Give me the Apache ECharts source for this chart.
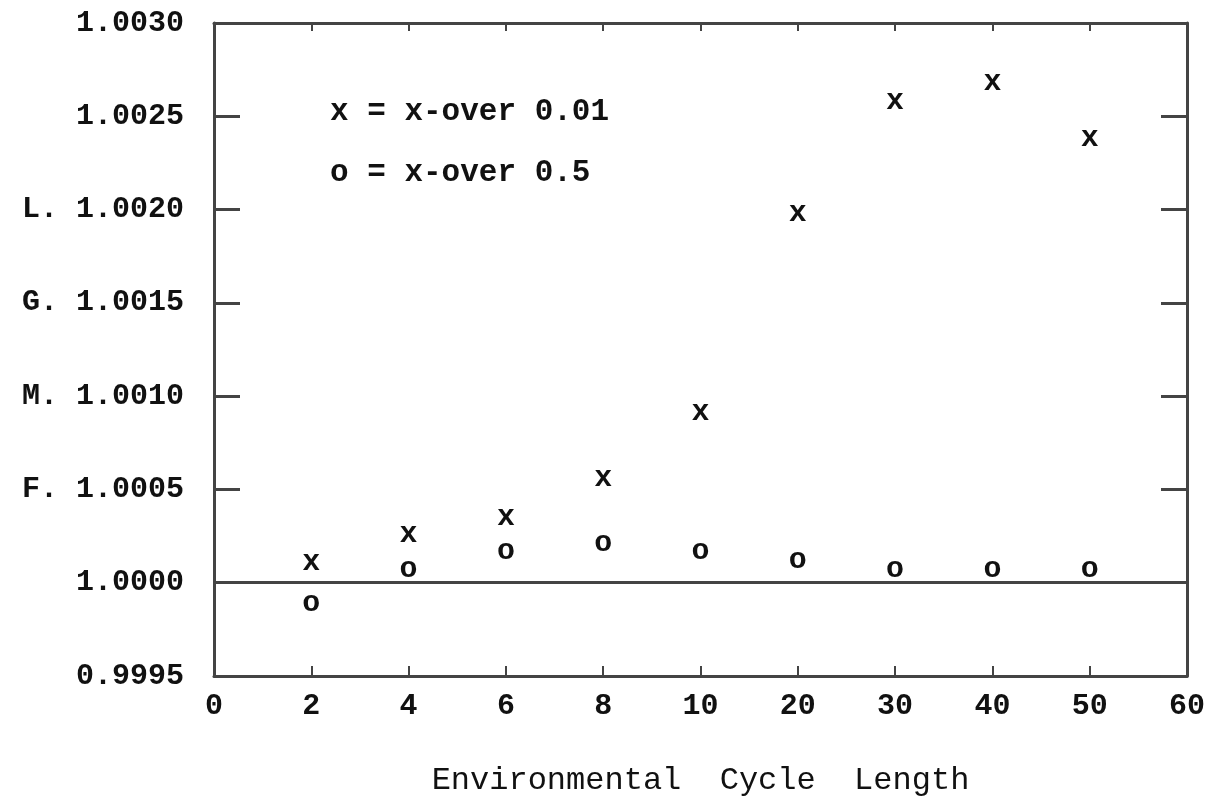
<!DOCTYPE html>
<html>
<head>
<meta charset="utf-8">
<script src="https://cdn.jsdelivr.net/npm/echarts@6/dist/echarts.min.js"></script>
<style>
  html, body { margin: 0; padding: 0; background: #fff; }
  #chart { width: 1208px; height: 802px; }
</style>
</head>
<body>
<div id="chart"></div>
<script>
// x axis tick labels (spaced evenly, not to scale)
const xTickLabels = ['0', '2', '4', '6', '8', '10', '20', '30', '40', '50', '60'];
// cycle lengths that were run
const cycleLengths = ['2', '4', '6', '8', '10', '20', '30', '40', '50'];
// L.G.M.F. values
const xover001 = [1.00011, 1.00026, 1.00035, 1.00056, 1.00091, 1.00198, 1.00258, 1.00268, 1.00238];
const xover05 = [0.99989, 1.00007, 1.00017, 1.00021, 1.00017, 1.00012, 1.00007, 1.00007, 1.00007];
// y ticks, and the letters of the y title printed in front of them
const yTicks = [0.9995, 1.0000, 1.0005, 1.0010, 1.0015, 1.0020, 1.0025, 1.0030];
const yTitleLetters = ['', '', 'F.', 'M.', 'G.', 'L.', '', ''];
const seriesNames = ['x-over 0.01', 'x-over 0.5'];
const seriesMarks = ['x', 'o'];

const font = "'Liberation Mono', 'Courier New', monospace";
const ink = '#111';
const frame = { color: '#444', width: 3 };

let chart = echarts.init(document.getElementById('chart'));

function yLabel(value) {
    let i = yTicks.findIndex(t => Math.abs(t - value) < 1e-7);
    if (i < 0) return '';
    let p = yTitleLetters[i];
    return (p ? p + ' ' : '') + yTicks[i].toFixed(4);
}

const option = {
    backgroundColor: '#fff',
    animation: false,
    grid: { left: 214, right: 12, top: 23, bottom: 120 },
    legend: {
        orient: 'vertical',
        left: 320,
        top: 92,
        icon: 'none',
        itemWidth: 0,
        itemHeight: 30,
        itemGap: 30,
        selectedMode: false,
        formatter: name => seriesMarks[seriesNames.indexOf(name)] + ' = ' + name,
        textStyle: { fontFamily: font, fontSize: 31, fontWeight: 'bold', color: ink }
    },
    xAxis: [
        {
            type: 'category',
            data: xTickLabels,
            boundaryGap: false,
            axisLine: { lineStyle: frame },
            axisTick: { inside: true, length: 10, lineStyle: { color: '#444', width: 2 } },
            axisLabel: { margin: 15, fontFamily: font, fontSize: 30, fontWeight: 'bold', color: ink },
            splitLine: { show: false },
            name: 'Environmental  Cycle  Length',
            nameLocation: 'middle',
            nameGap: 89,
            nameTextStyle: { fontFamily: font, fontSize: 32, color: ink }
        },
        {
            type: 'category',
            data: xTickLabels,
            boundaryGap: false,
            position: 'top',
            axisLine: { lineStyle: frame },
            axisTick: { inside: true, length: 8, lineStyle: { color: '#444', width: 2 } },
            axisLabel: { show: false },
            splitLine: { show: false }
        }
    ],
    yAxis: [
        {
            type: 'value',
            min: 0.9995,
            max: 1.003,
            interval: 0.0005,
            axisLine: { show: true, lineStyle: frame },
            axisTick: { show: true, inside: true, length: 26, lineStyle: { color: '#444', width: 3 } },
            axisLabel: { margin: 30, formatter: yLabel, fontFamily: font, fontSize: 30, fontWeight: 'bold', color: ink },
            splitLine: { show: false }
        },
        {
            type: 'value',
            position: 'right',
            min: 0.9995,
            max: 1.003,
            interval: 0.0005,
            axisLine: { show: true, lineStyle: frame },
            axisTick: { show: true, inside: true, length: 26, lineStyle: { color: '#444', width: 3 } },
            axisLabel: { show: false },
            splitLine: { show: false }
        }
    ],
    series: [xover001, xover05].map((vals, s) => ({
        name: seriesNames[s],
        type: 'scatter',
        symbol: 'circle',
        symbolSize: 1,
        itemStyle: { color: 'transparent', opacity: 1 },
        label: {
            show: true,
            position: 'inside',
            formatter: seriesMarks[s],
            fontFamily: font,
            fontSize: 30,
            fontWeight: 'bold',
            color: ink,
            opacity: 1
        },
        data: cycleLengths.map((c, i) => [c, vals[i]]),
        markLine: s === 0 ? {
            silent: true,
            symbol: 'none',
            label: { show: false },
            lineStyle: { color: '#444', width: 3, type: 'solid' },
            data: [{ yAxis: 1.0 }]
        } : undefined
    }))
};
chart.setOption(option);
</script>
</body>
</html>
